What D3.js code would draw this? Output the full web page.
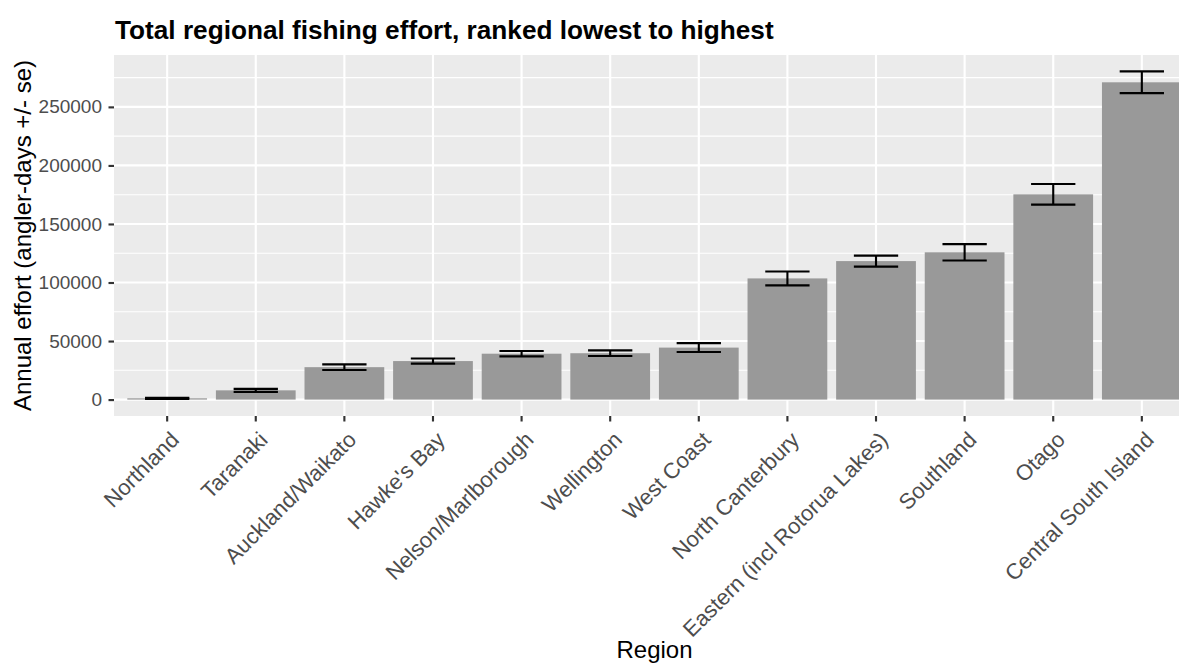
<!DOCTYPE html>
<html>
<head>
<meta charset="utf-8">
<script src="https://cdn.jsdelivr.net/npm/d3@7"></script>
<style>
  html, body { margin: 0; padding: 0; background: #ffffff; }
  svg { display: block; font-family: "Liberation Sans", Arial, sans-serif; }
</style>
</head>
<body>
<svg id="chart" width="1179" height="664"></svg>
<script>
// ---- data ----
const regions = ["Northland", "Taranaki", "Auckland/Waikato", "Hawke's Bay", "Nelson/Marlborough",
  "Wellington", "West Coast", "North Canterbury", "Eastern (incl Rotorua Lakes)", "Southland",
  "Otago", "Central South Island"];
const effort = [1100, 7900, 27700, 32900, 39200, 39600, 44400, 103500, 118300, 125800, 175300, 271000];
const effortSE = [500, 1300, 2400, 2200, 2300, 2400, 3800, 5900, 4700, 7000, 8800, 9300];
const yMajorTicks = [0, 50000, 100000, 150000, 200000, 250000];
const yMinorTicks = [25000, 75000, 125000, 175000, 225000, 275000];
const titleText = "Total regional fishing effort, ranked lowest to highest";
const xTitle = "Region";
const yTitle = "Annual effort (angler-days +/- se)";

const rows = regions.map((r, i) => ({ region: r, value: effort[i], se: effortSE[i] }));

// ---- layout ----
const svg = d3.select("#chart");
const panel = { left: 114, right: 1195, top: 55, bottom: 416 };

const x = d3.scaleBand()
  .domain(regions)
  .range([panel.left, panel.right])
  .paddingInner(0.1)
  .paddingOuter(0.15);

const lo = Math.min(0, d3.min(rows, d => d.value - d.se));
const hi = d3.max(rows, d => d.value + d.se);
const pad = (hi - lo) * 0.05;
const y = d3.scaleLinear().domain([lo - pad, hi + pad]).range([panel.bottom, panel.top]);

// panel background
svg.append("rect")
  .attr("x", panel.left).attr("y", panel.top)
  .attr("width", panel.right - panel.left).attr("height", panel.bottom - panel.top)
  .attr("fill", "#EBEBEB");

// minor gridlines
svg.append("g").selectAll("line").data(yMinorTicks.filter(v => y(v) >= panel.top)).join("line")
  .attr("x1", panel.left).attr("x2", panel.right)
  .attr("y1", d => y(d)).attr("y2", d => y(d))
  .attr("stroke", "#ffffff").attr("stroke-width", 1.07);

// major gridlines
svg.append("g").selectAll("line").data(yMajorTicks).join("line")
  .attr("x1", panel.left).attr("x2", panel.right)
  .attr("y1", d => y(d)).attr("y2", d => y(d))
  .attr("stroke", "#ffffff").attr("stroke-width", 2.13);

svg.append("g").selectAll("line").data(regions).join("line")
  .attr("x1", d => x(d) + x.bandwidth() / 2).attr("x2", d => x(d) + x.bandwidth() / 2)
  .attr("y1", panel.top).attr("y2", panel.bottom)
  .attr("stroke", "#ffffff").attr("stroke-width", 2.13);

// bars
svg.append("g").selectAll("rect").data(rows).join("rect")
  .attr("x", d => x(d.region))
  .attr("width", x.bandwidth())
  .attr("y", d => y(d.value))
  .attr("height", d => y(0) - y(d.value))
  .attr("fill", "#999999");

// error bars
const ew = x.step() * 0.5;
const eg = svg.append("g").attr("stroke", "#000000").attr("stroke-width", 2.13).attr("fill", "none");
rows.forEach(d => {
  const cx = x(d.region) + x.bandwidth() / 2;
  const g = eg.append("g");
  g.append("line").attr("x1", cx - ew / 2).attr("x2", cx + ew / 2)
    .attr("y1", y(d.value + d.se)).attr("y2", y(d.value + d.se));
  g.append("line").attr("x1", cx - ew / 2).attr("x2", cx + ew / 2)
    .attr("y1", y(d.value - d.se)).attr("y2", y(d.value - d.se));
  g.append("line").attr("x1", cx).attr("x2", cx)
    .attr("y1", y(d.value + d.se)).attr("y2", y(d.value - d.se));
});

// y axis
const yAxis = d3.axisLeft(y).tickValues(yMajorTicks).tickSize(5.5).tickPadding(6.5).tickFormat(d3.format("d"));
const ya = svg.append("g").attr("transform", `translate(${panel.left},0)`).call(yAxis);
ya.select(".domain").remove();
ya.selectAll(".tick line").attr("stroke", "#333333").attr("stroke-width", 2.13);
ya.selectAll(".tick text").attr("fill", "#4D4D4D").attr("font-size", "19px")
  .attr("font-family", "Liberation Sans, Arial, sans-serif");

// x axis
const xAxis = d3.axisBottom(x).tickSize(5.5).tickPadding(0);
const xa = svg.append("g").attr("transform", `translate(0,${panel.bottom})`).call(xAxis);
xa.select(".domain").remove();
xa.selectAll(".tick line").attr("stroke", "#333333").attr("stroke-width", 2.13);
xa.selectAll(".tick text")
  .attr("fill", "#4D4D4D").attr("font-size", "22px")
  .attr("font-family", "Liberation Sans, Arial, sans-serif")
  .attr("text-anchor", "end")
  .attr("y", 0).attr("dy", "0.72em")
  .attr("transform", "translate(2,14) rotate(-45)");

// title
svg.append("text")
  .attr("x", 115).attr("y", 39)
  .attr("font-size", "26.2px").attr("font-weight", "bold").attr("fill", "#000000")
  .text(titleText);

// axis titles
svg.append("text")
  .attr("x", (panel.left + panel.right) / 2).attr("y", 658)
  .attr("text-anchor", "middle").attr("font-size", "24px").attr("fill", "#000000")
  .text(xTitle);

svg.append("text")
  .attr("transform", `translate(31,${(panel.top + panel.bottom) / 2}) rotate(-90)`)
  .attr("text-anchor", "middle").attr("font-size", "24px").attr("fill", "#000000")
  .text(yTitle);
</script>
</body>
</html>
